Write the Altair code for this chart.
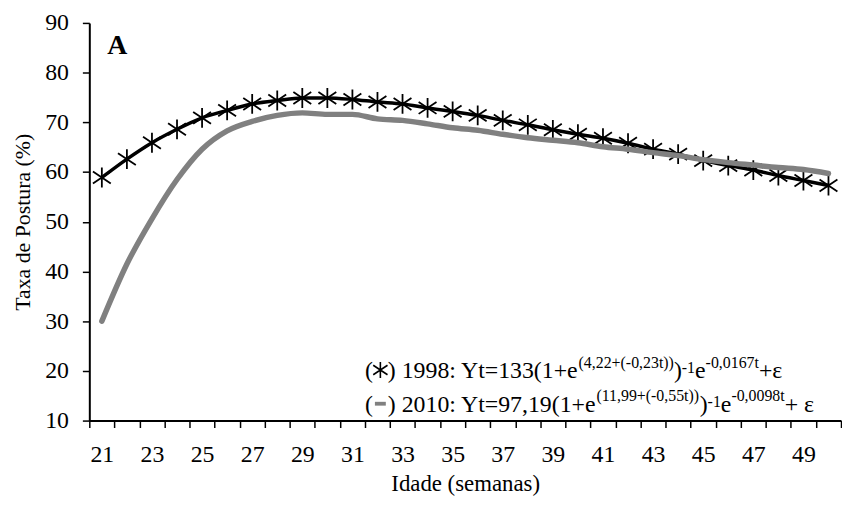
import altair as alt
import pandas as pd

FONT = "Liberation Serif"

# ---- data ----
weeks = list(range(21, 51))
y1998 = [58.9, 62.6, 65.9, 68.6, 70.9, 72.4, 73.7, 74.4, 74.9, 74.9,
         74.6, 74.1, 73.7, 72.9, 72.2, 71.4, 70.4, 69.5, 68.5, 67.6,
         66.8, 65.8, 64.6, 63.6, 62.3, 61.3, 60.4, 59.3, 58.3, 57.3]
y2010 = [30.0, 41.5, 50.6, 58.5, 64.6, 68.3, 70.2, 71.4, 71.9, 71.6,
         71.6, 70.7, 70.4, 69.7, 68.9, 68.4, 67.6, 66.9, 66.4, 65.9,
         65.1, 64.6, 63.9, 63.3, 62.5, 61.9, 61.4, 60.9, 60.5, 59.7]
y_ticks = [10, 20, 30, 40, 50, 60, 70, 80, 90]
x_bounds = [w - 0.5 for w in weeks] + [weeks[-1] + 0.5]

legend1 = [("1998: Yt=133(1+e", 0), ("(4,22+(-0,23t))", 1), (")", 0),
           ("-1", 2), ("e", 0), ("-0,0167t", 1), (" +ε", 0)]
legend2 = [("2010: Yt=97,19(1+e", 0), ("(11,99+(-0,55t))", 1), (")", 0),
           ("-1", 2), ("e", 0), ("-0,0098t", 1), (" + ε", 0)]

PLOT_W, PLOT_H = 758, 401
GREY = "#808080"
STAR = "M0,-1L0,1M-0.9,-0.6L0.9,0.6M-0.9,0.6L0.9,-0.6"

df = pd.DataFrame({
    "week": weeks * 2,
    "value": y1998 + y2010,
    "series": ["1998"] * len(weeks) + ["2010"] * len(weeks),
})

cat_w = PLOT_W / len(weeks)

x_enc = alt.X(
    "week:Q",
    scale=alt.Scale(domain=[x_bounds[0], x_bounds[-1]], nice=False, zero=False),
    axis=alt.Axis(
        values=x_bounds,
        labelExpr="((datum.value + 0.5) % 2 == 1 && datum.value < 50) ? format(datum.value + 0.5, 'd') : ''",
        labelOffset=cat_w / 2,
        labelFlush=False,
        labelOverlap=False,
        labelPadding=15,
        tickSize=7,
        title="Idade (semanas)",
        titleFontSize=23,
        titleY=71,
        titleBaseline="alphabetic",
        grid=False,
    ),
)
y_enc = alt.Y(
    "value:Q",
    scale=alt.Scale(domain=[10, 90], nice=False, zero=False),
    axis=alt.Axis(
        values=y_ticks,
        tickSize=7,
        labelPadding=14,
        title="Taxa de Postura (%)",
        titleFontSize=22,
        titleX=-60,
        titleBaseline="alphabetic",
        grid=False,
    ),
)

base = alt.Chart(df)
black_line = base.transform_filter("datum.series == '1998'").mark_line(
    color="black", strokeWidth=3.5, interpolate="monotone"
).encode(x=x_enc, y=y_enc)
black_pts = base.transform_filter("datum.series == '1998'").mark_point(
    shape=STAR, size=400, stroke="black", strokeWidth=1.8, filled=False, opacity=1
).encode(x=x_enc, y=y_enc)
grey_line = base.transform_filter("datum.series == '2010'").mark_line(
    color=GREY, strokeWidth=5.5, interpolate="monotone", strokeCap="round"
).encode(x=x_enc, y=y_enc)

layers = [black_line, black_pts, grey_line]

one = pd.DataFrame({"k": [0]})

# ---- text width helper (Times / Liberation Serif metrics) ----
TW = {' ': 250, '(': 333, ')': 333, '+': 564, ',': 250, '-': 333, '.': 250,
      ':': 278, '=': 564, 'Y': 722, 't': 278, 'e': 444, 'ε': 439}
for d in "0123456789":
    TW[d] = 500


def tw(s, fs):
    return sum(TW.get(c, 500) for c in s) * fs / 1000.0


MAIN, SUP = 24, 16


def text_layer(txt, x, y, fs, weight="normal", color="black"):
    return alt.Chart(one).mark_text(
        text=txt, font=FONT, fontSize=fs, fontWeight=weight, color=color,
        align="left", baseline="alphabetic"
    ).encode(x=alt.value(x), y=alt.value(y))


def legend_line(parts, x0, base_y, raises, symbol):
    out = []
    x = x0
    out.append(text_layer("(", x, base_y, MAIN))
    cx = x + tw("(", MAIN) + 7.5
    if symbol == "star":
        out.append(alt.Chart(one).mark_point(
            shape=STAR, size=256, stroke="black", strokeWidth=1.6, filled=False, opacity=1
        ).encode(x=alt.value(cx), y=alt.value(base_y - 8)))
    else:
        out.append(alt.Chart(one).mark_point(
            shape="M-1,-0.35L1,-0.35L1,0.35L-1,0.35Z", size=121, fill=GREY,
            filled=True, opacity=1, strokeWidth=0
        ).encode(x=alt.value(cx), y=alt.value(base_y - 8)))
    x = x + tw("(", MAIN) + 15
    out.append(text_layer(")", x, base_y, MAIN))
    x += tw(") ", MAIN)
    for txt, lvl in parts:
        fs = MAIN if lvl == 0 else SUP
        out.append(text_layer(txt, x, base_y - raises[lvl], fs))
        x += tw(txt, fs)
    return out


layers += legend_line(legend1, 278, 358, {0: 0, 1: 10, 2: 5}, "star")
layers += legend_line(legend2, 278, 392, {0: 0, 1: 11, 2: 5}, "dash")
layers.append(text_layer("A", 18, 31, 28, weight="bold"))

chart = alt.layer(*layers).properties(
    width=PLOT_W, height=PLOT_H,
    autosize=alt.AutoSizeParams(type="none"),
    padding={"left": 82, "top": 13, "right": 1, "bottom": 74},
    background="white",
).configure_view(stroke=None).configure_axis(
    labelFont=FONT, titleFont=FONT, labelFontSize=24,
    labelColor="black", titleColor="black", titleFontWeight="normal",
    domainColor="black", tickColor="black", domainWidth=2, tickWidth=1.5,
)

chart.save("out.html", embed_options={"renderer": "svg", "actions": False})
